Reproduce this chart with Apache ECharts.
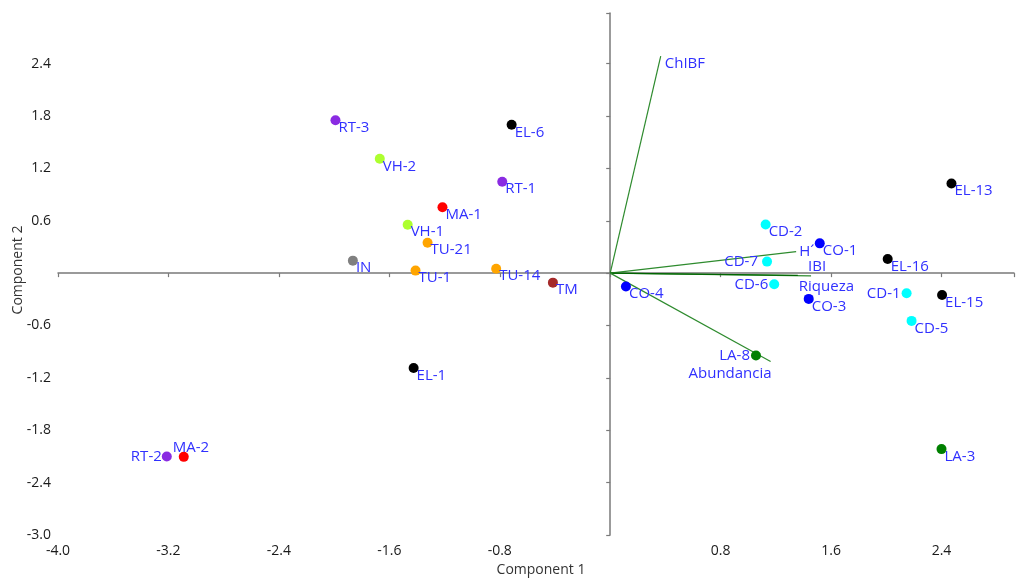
<!DOCTYPE html>
<html>
<head>
<meta charset="utf-8">
<script src="https://cdn.jsdelivr.net/npm/echarts@6/dist/echarts.min.js"></script>
<style>html,body{margin:0;padding:0;background:#fff}#c{width:1017px;height:580px}</style>
</head>
<body>
<div id="c"></div>
<script>
// ---- data ----
const sampleNames = ['RT-3','EL-6','VH-2','RT-1','MA-1','VH-1','TU-21','IN','TU-1','TU-14','TM','EL-1','RT-2','MA-2',
  'CO-4','CD-2','CO-1','CD-7','CD-6','CO-3','EL-16','EL-13','CD-1','EL-15','CD-5','LA-8','LA-3'];
const comp1 = [-1.990,-0.714,-1.669,-0.782,-1.215,-1.467,-1.323,-1.864,-1.410,-0.826,-0.415,-1.424,-3.212,-3.089,
  0.114,1.126,1.518,1.136,1.188,1.438,2.010,2.472,2.147,2.404,2.183,1.056,2.400];
const comp2 = [1.751,1.699,1.310,1.047,0.755,0.555,0.349,0.143,0.029,0.051,-0.109,-1.087,-2.100,-2.105,
  -0.154,0.558,0.341,0.132,-0.128,-0.295,0.162,1.027,-0.231,-0.250,-0.547,-0.944,-2.016];
const loadingNames = ['ChIBF','H´','IBI','Riqueza','Abundancia'];
const loadX = [0.366,1.347,1.455,1.359,1.162];
const loadY = [2.485,0.246,-0.032,-0.025,-1.013];
const xTicks = {min:-4.0, max:2.925, step:0.8};
const yTicks = {min:-3.0, max:2.98, step:0.6};

// ---- styles ----
const groupColors = {RT:'#8a2be2', EL:'#000000', VH:'#adff2f', MA:'#ff0000', TU:'#ffa500', IN:'#808080',
  TM:'#a52a2a', CO:'#0000ff', CD:'#00ffff', LA:'#008000'};
const labelColor = '#3030ff';
const FONT = '"Open Sans", "Noto Sans", sans-serif';
const leftLabel = {'CD-7':4,'CD-6':1,'CD-1':1,'LA-8':1,'RT-2':0};
const specialLabel = {'MA-2':{position:[-6,-12]}};
const loadLabel = {
  'ChIBF':{position:[9,5]},
  'H´':{position:[8,-2]},
  'IBI':{position:[2,-12]},
  'Riqueza':{position:[6,9]},
  'Abundancia':{position:[6,10], align:'right'}
};

function isTick(v, step, max){ const r = v/step; return Math.abs(r-Math.round(r))<1e-6 && Math.abs(v)>1e-9 && v < max-1e-6; }

const sampleData = sampleNames.map((n,i)=>{
  const g = n.split('-')[0];
  let label;
  if (n in leftLabel) label = {position:'left', distance:leftLabel[n], align:'right', verticalAlign:'middle'};
  else if (n in specialLabel) label = Object.assign({align:'left', verticalAlign:'top'}, specialLabel[n]);
  else label = {position:[8,5], align:'left', verticalAlign:'top'};
  return {name:n, value:[comp1[i], comp2[i]], itemStyle:{color:groupColors[g], opacity:1}, label:label};
});

const series = [];
loadingNames.forEach((n,i)=>{
  series.push({type:'line', data:[[0,0],[loadX[i],loadY[i]]], symbol:'none', silent:true,
    lineStyle:{color: (n==='Riqueza'?'#006400':'#2e8b2e'), width:1.2}, z:1, animation:false});
});
series.push({type:'scatter', symbolSize:10, z:3, animation:false, silent:true,
  data: loadingNames.map((n,i)=>({name:n, value:[loadX[i],loadY[i]],
    label: Object.assign({align:'left', verticalAlign:'top'}, loadLabel[n])})),
  itemStyle:{color:'rgba(0,0,0,0)', opacity:1},
  label:{show:true, formatter:'{b}', color:labelColor, fontFamily:FONT, fontSize:15, lineHeight:15}
});
series.push({type:'scatter', symbolSize:10, z:4, animation:false, data: sampleData,
  label:{show:true, formatter:'{b}', color:labelColor, fontFamily:FONT, fontSize:15, lineHeight:15}
});

const axisCommon = {
  type:'value',
  axisLine:{onZero:true, lineStyle:{color:'#7a7a7a', width:1.5}},
  axisTick:{show:true, length:4, lineStyle:{color:'#7a7a7a', width:1.2}},
  splitLine:{show:false},
};

const chart = echarts.init(document.getElementById('c'));
chart.setOption({
  backgroundColor:'#fff',
  animation:false,
  grid:{left:58, right:0, top:13, bottom:45, containLabel:false},
  xAxis: Object.assign({}, axisCommon, {min:xTicks.min, max:xTicks.max, interval:xTicks.step,
    axisLabel:{margin:9, color:'#1a1a1a', fontFamily:FONT, fontSize:14, showMaxLabel:true,
      formatter:v=>isTick(v,xTicks.step,xTicks.max)? v.toFixed(1) : ''}}),
  yAxis: Object.assign({}, axisCommon, {min:yTicks.min, max:yTicks.max, interval:yTicks.step,
    axisLabel:{margin:7, color:'#1a1a1a', fontFamily:FONT, fontSize:14,
      formatter:v=>isTick(v,yTicks.step,yTicks.max)? v.toFixed(1) : ''}}),
  graphic:[
    {type:'text', x:541, y:570, style:{text:'Component 1', font:'14px '+FONT, fill:'#333', textAlign:'center', textVerticalAlign:'middle'}},
    {type:'text', x:18, y:270, rotation:Math.PI/2,
      style:{text:'Component 2', font:'14px '+FONT, fill:'#333', textAlign:'center', textVerticalAlign:'middle'}}
  ],
  series: series
});
</script>
</body>
</html>
